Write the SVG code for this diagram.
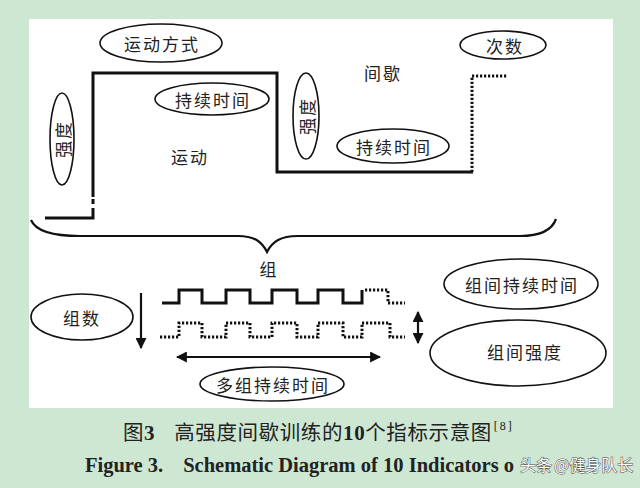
<svg xmlns="http://www.w3.org/2000/svg" width="640" height="488" viewBox="0 0 640 488">
<defs>
<style>
.bg{fill:#cde7d3}
.panel{fill:#ffffff}
.ell{fill:#ffffff;stroke:#111;stroke-width:1.6}
.lbl{font-family:"Noto Sans CJK SC","Noto Sans CJK JP",sans-serif;font-size:17px;fill:#222;text-anchor:middle;dominant-baseline:central;letter-spacing:2px}
.thick{fill:none;stroke:#111;stroke-width:3;stroke-linejoin:miter}
.dot{fill:none;stroke:#111;stroke-width:3;stroke-dasharray:2.2 1.8}
.thin{fill:none;stroke:#111;stroke-width:2.2}
.cap{font-family:"Noto Sans CJK SC",sans-serif;font-size:20.5px;fill:#222;letter-spacing:0.6px}
.en{font-family:"Liberation Serif",serif;font-weight:bold;font-size:20.5px;fill:#222}
.wm{font-family:"Noto Sans CJK SC",sans-serif;font-size:16px;fill:#ffffff;stroke:#444;stroke-width:0.9;paint-order:stroke}
</style>
<marker id="ah" viewBox="0 0 10 10" refX="9" refY="5" markerWidth="5" markerHeight="5" orient="auto-start-reverse" markerUnits="strokeWidth">
<path d="M0,0 L10,5 L0,10 Z" fill="#111"/>
</marker>
</defs>
<rect class="bg" x="0" y="0" width="640" height="488"/>
<rect class="panel" x="29" y="19" width="584" height="389"/>

<g id="connectors">
<path class="thick" d="M45,218 H93 V213"/>
<path class="thick" d="M93,213 V197" stroke-dasharray="5 4"/>
<path class="thick" d="M93,197 V73 H277 V172 H473"/>
<path class="dot" d="M472,172 V76 H508"/>
<path class="thin" d="M31,220 C36,232 55,236 80,236 H238 C255,236 262,242 267,252 C272,242 280,236 298,236 H520 C540,236 552,230 556,219"/>
<path class="thick" d="M162,303 H179 V290 H202 V303 H226 V290 H250 V303 H272 V290 H297 V303 H318 V290 H343 V303 H362 V290"/>
<path class="dot" d="M365,290 H388 V303 H405"/>
<path class="dot" d="M160,337 H179 V323 H202 V337 H226 V323 H250 V337 H272 V323 H297 V337 H318 V323 H343 V337 H362 V323 H390 V337 H405"/>
<line class="thin" x1="141" y1="293" x2="141" y2="348" marker-end="url(#ah)"/>
<line class="thin" x1="418" y1="312" x2="418" y2="343" marker-start="url(#ah)" marker-end="url(#ah)"/>
<line class="thin" x1="177" y1="357" x2="380" y2="357" stroke-width="3" marker-start="url(#ah)" marker-end="url(#ah)"/>
</g>

<g id="n-yundongfangshi"><ellipse class="ell" cx="161" cy="43" rx="61" ry="19"/><text class="lbl" x="162" y="43">运动方式</text></g>
<g id="n-chixu1"><ellipse class="ell" cx="212" cy="99" rx="57" ry="16"/><text class="lbl" x="213" y="99">持续时间</text></g>
<g id="n-qiangdu1"><ellipse class="ell" cx="62" cy="139" rx="12" ry="46"/><text class="lbl" x="0" y="0" transform="translate(62,139) rotate(-90)">强度</text></g>
<g id="n-qiangdu2"><ellipse class="ell" cx="306" cy="116" rx="13" ry="43"/><text class="lbl" x="0" y="0" transform="translate(306,116) rotate(-90)">强度</text></g>
<g id="n-cishu"><ellipse class="ell" cx="503" cy="45" rx="43" ry="14"/><text class="lbl" x="505" y="45">次数</text></g>
<g id="n-chixu2"><ellipse class="ell" cx="393" cy="146" rx="56" ry="17"/><text class="lbl" x="394" y="146">持续时间</text></g>
<g id="n-yundong"><text class="lbl" x="190" y="156">运动</text></g>
<g id="n-jianxie"><text class="lbl" x="383" y="72">间歇</text></g>
<g id="n-zu"><text class="lbl" x="269" y="268">组</text></g>
<g id="n-zushu"><ellipse class="ell" cx="82" cy="317" rx="51" ry="23"/><text class="lbl" x="82" y="317">组数</text></g>
<g id="n-duozu"><ellipse class="ell" cx="272" cy="384" rx="72" ry="17"/><text class="lbl" x="273" y="384">多组持续时间</text></g>
<g id="n-zujianchixu"><ellipse class="ell" cx="521" cy="284" rx="77" ry="25"/><text class="lbl" x="522" y="284">组间持续时间</text></g>
<g id="n-zujianqiangdu"><ellipse class="ell" cx="518" cy="353" rx="88" ry="33"/><text class="lbl" x="525" y="351">组间强度</text></g>

<g id="caption">
<text class="cap" x="123" y="440">图<tspan font-family="Liberation Serif" font-weight="bold" font-size="21">3</tspan><tspan dx="19">高强度间歇训练的</tspan><tspan font-family="Liberation Serif" font-weight="bold" font-size="21">10</tspan>个指标示意图<tspan font-family="Liberation Serif" font-size="12" dx="2" dy="-10" letter-spacing="2">[8]</tspan></text>
<text class="en" x="85" y="472">Figure 3.<tspan dx="20">Schematic Diagram of 10 Indicators o</tspan></text>
<text class="wm" x="520" y="471">头条<tspan dx="2">@健身队长</tspan></text>
</g>
</svg>
